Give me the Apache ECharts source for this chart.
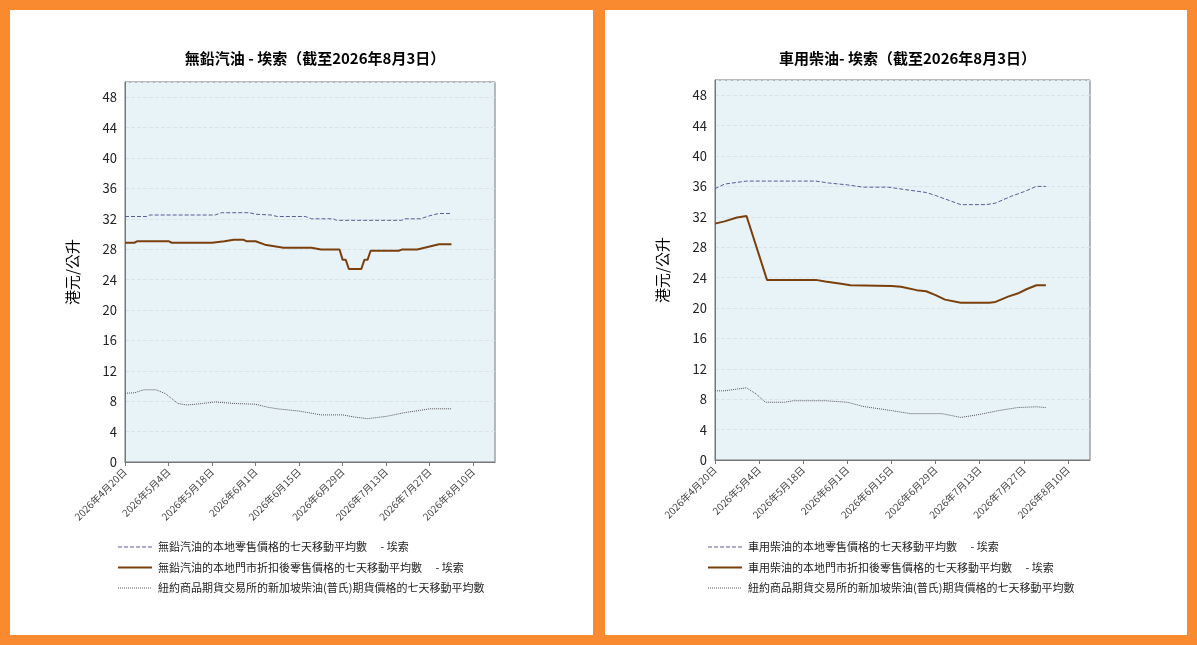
<!DOCTYPE html><html><head><meta charset="utf-8"><script src="https://cdn.jsdelivr.net/npm/echarts@6/dist/echarts.min.js"></script>
<style>body{margin:0;background:#f98a2f}#c{width:1197px;height:645px}</style></head><body><div id="c"></div><script>
const startDate = [2026,4,20];
const tickDays = [0,14,28,42,56,70,84,98,112];
const titles = ['無鉛汽油 - 埃索（截至2026年8月3日）','車用柴油- 埃索（截至2026年8月3日）'];
const legendNames = [
 ['無鉛汽油的本地零售價格的七天移動平均數 　- 埃索','無鉛汽油的本地門市折扣後零售價格的七天移動平均數 　- 埃索','紐約商品期貨交易所的新加坡柴油(普氏)期貨價格的七天移動平均數'],
 ['車用柴油的本地零售價格的七天移動平均數 　- 埃索','車用柴油的本地門市折扣後零售價格的七天移動平均數 　- 埃索','紐約商品期貨交易所的新加坡柴油(普氏)期貨價格的七天移動平均數']
];
const petrolRetail = [[0,32.3],[7,32.3],[8,32.5],[29,32.5],[31,32.8],[40,32.8],[42,32.6],[47,32.5],[49,32.3],[58,32.3],[60,32.0],[67,32.0],[68,31.8],[89,31.8],[90,32.0],[95,32.0],[98,32.4],[101,32.7],[105,32.7]];
const petrolDisc = [[0,28.85],[3,28.85],[4,29.05],[14,29.05],[15,28.85],[28,28.85],[32,29.05],[35,29.25],[38,29.25],[39,29.05],[42,29.05],[45,28.6],[48,28.4],[51,28.2],[60,28.2],[63,27.95],[69,27.95],[70,26.6],[71,26.6],[72,25.4],[76,25.4],[77,26.6],[78,26.6],[79,27.8],[88,27.8],[89,27.95],[94,27.95],[96,28.15],[99,28.45],[101,28.65],[105,28.65]];
const petrolFut = [[0,9.05],[3,9.1],[6,9.5],[10,9.5],[13,9.0],[17,7.7],[20,7.5],[25,7.7],[29,7.9],[35,7.7],[42,7.6],[46,7.2],[49,7.0],[56,6.7],[63,6.2],[70,6.2],[74,5.9],[78,5.7],[84,6.0],[90,6.5],[95,6.8],[98,7.0],[105,7.0]];
const dieselRetail = [[0,35.7],[3,36.3],[10,36.7],[32,36.7],[36,36.45],[42,36.2],[47,35.9],[55,35.9],[60,35.6],[67,35.2],[70,34.8],[78,33.6],[86,33.6],[89,33.8],[94,34.7],[98,35.3],[102,36.0],[105,36.0]];
const dieselDisc = [[0,31.1],[3,31.4],[7,31.9],[10,32.1],[16.5,23.7],[32,23.7],[35,23.5],[40,23.2],[43,23.0],[56,22.9],[59,22.8],[64,22.35],[67,22.2],[70,21.7],[73,21.1],[78,20.7],[87,20.7],[89,20.8],[93,21.5],[96,21.9],[99,22.5],[102,23.0],[105,23.0]];
const dieselFut = [[0,9.1],[3,9.1],[10,9.5],[13,8.7],[16,7.6],[22,7.6],[25,7.8],[35,7.8],[42,7.6],[47,7.05],[56,6.5],[62,6.1],[72,6.1],[78,5.6],[84,6.0],[90,6.5],[96,6.9],[102,7.0],[105,6.9]];
const seriesData = [[petrolRetail,petrolDisc,petrolFut],[dieselRetail,dieselDisc,dieselFut]];

function dayLabel(d){const dt=new Date(startDate[0],startDate[1]-1,startDate[2]+d);return dt.getFullYear()+'年'+(dt.getMonth()+1)+'月'+dt.getDate()+'日';}
const font='"Noto Sans CJK TC", sans-serif';
const grids=[{left:125,top:82,width:370,height:380},{left:715,top:80,width:375,height:380}];
const styles=[{type:'dashed',color:'#5b5b96',width:1},{type:'solid',color:'#7b3f0c',width:2},{type:'dotted',color:'#555555',width:1}];
const opt={backgroundColor:'#f98a2f',animation:false,title:[],grid:[],xAxis:[],yAxis:[],series:[],
 graphic:{elements:[{type:'rect',z:-100,silent:true,shape:{x:10,y:10,width:583,height:625},style:{fill:'#fff'}},{type:'rect',z:-100,silent:true,shape:{x:605,y:10,width:582,height:625},style:{fill:'#fff'}}]}};
[0,1].forEach(i=>{
 const g=grids[i];
 opt.title.push({text:titles[i],left:g.left+g.width/2,textAlign:'center',top:46,textStyle:{fontFamily:font,fontSize:15,fontWeight:'bold',color:'#000'}});
 opt.grid.push({left:g.left,top:g.top,width:g.width,height:g.height,show:true,backgroundColor:'#e8f3f8',borderColor:'#777',borderWidth:1});
 opt.xAxis.push({type:'value',gridIndex:i,min:0,max:119,interval:14,axisLine:{show:true,lineStyle:{color:'#777'}},axisTick:{show:true,length:4,lineStyle:{color:'#777'}},splitLine:{show:false},
  axisLabel:{rotate:45,fontFamily:font,fontSize:10,color:'#444',showMaxLabel:false,formatter:v=>tickDays.includes(v)?dayLabel(v):''}});
 opt.yAxis.push({type:'value',gridIndex:i,min:0,max:50,interval:4,name:'港元/公升',nameLocation:'middle',nameGap:45,nameTextStyle:{fontFamily:font,fontSize:15,color:'#000'},
  axisLine:{show:true,lineStyle:{color:'#777'}},axisTick:{show:false},axisLabel:{fontFamily:font,fontSize:13,color:'#222',formatter:v=>v>48?'':v},
  splitLine:{show:true,lineStyle:{type:'dashed',color:'#d8e4ea'}}});
 seriesData[i].forEach((d,k)=>{
  opt.series.push({type:'line',name:legendNames[i][k],xAxisIndex:i,yAxisIndex:i,data:d,showSymbol:false,lineStyle:styles[k],itemStyle:{color:styles[k].color}});
  const y=547+k*20.5, x=g.left-7;
  opt.graphic.elements.push({type:'line',shape:{x1:x,y1:y,x2:x+34,y2:y},style:{stroke:styles[k].color,lineWidth:styles[k].width,lineDash:styles[k].type==='dashed'?[4,2]:styles[k].type==='dotted'?[1,1]:null}});
  opt.graphic.elements.push({type:'text',x:x+40,y:y,style:{text:legendNames[i][k],fill:'#222',font:'11px '+font,textVerticalAlign:'middle'}});
 });
});
const ch=echarts.init(document.getElementById('c'));ch.setOption(opt);
</script></body></html>
